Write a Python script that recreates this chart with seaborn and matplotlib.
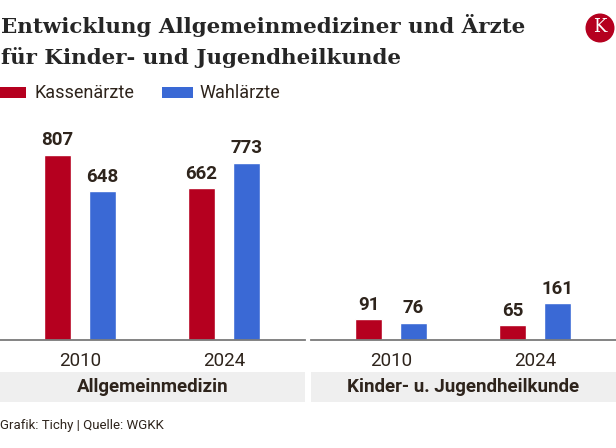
import matplotlib
matplotlib.use("Agg")
import matplotlib.pyplot as plt
import seaborn as sns
import pandas as pd
from matplotlib.patches import Rectangle, Ellipse

# ---- data ----
panels = ["Allgemeinmedizin", "Kinder- u. Jugendheilkunde"]
years = ["2010", "2024"]
series = ["Kassenärzte", "Wahlärzte"]
allgemein_kassen = [807, 662]
allgemein_wahl = [648, 773]
kinder_kassen = [91, 65]
kinder_wahl = [76, 161]

title_lines = ["Entwicklung Allgemeinmediziner und Ärzte",
               "für Kinder- und Jugendheilkunde"]
footer = "Grafik: Tichy | Quelle: WGKK"

RED = "#b5001f"
BLUE = "#3a69d5"
TXT = "#2e241c"

sns.set_theme(style="white")
plt.rcParams["font.family"] = ["Roboto", "DejaVu Sans"]

W, H = 616, 448
fig = plt.figure(figsize=(W / 100, H / 100), dpi=100)

def fx(px):
    return px / W

def fy(py):
    return 1 - py / H

base_y = 340
top_y = 110
panel_x = [(0, 305), (311, 616)]
data_sets = [(allgemein_kassen, allgemein_wahl), (kinder_kassen, kinder_wahl)]
ymax = (base_y - top_y) / ((340 - 155) / 807)

for (x0, x1), (kas, wahl), pname in zip(panel_x, data_sets, panels):
    ax = fig.add_axes([fx(x0), fy(base_y), fx(x1 - x0), (base_y - top_y) / H])
    df = pd.DataFrame({
        "Jahr": years * 2,
        "Gruppe": [series[0]] * len(years) + [series[1]] * len(years),
        "Wert": list(kas) + list(wahl),
    })
    sns.barplot(data=df, x="Jahr", y="Wert", hue="Gruppe", order=years,
                hue_order=series, palette=[RED, BLUE], width=0.625, gap=0.4,
                ax=ax, legend=False, saturation=1)
    for c in ax.containers:
        ax.bar_label(c, fmt="%d", padding=4, fontsize=13.5, fontweight="bold",
                     color=TXT)
    ax.set_xlim(-0.556, 1.5625)
    ax.set_ylim(0, ymax)
    ax.set_xlabel("")
    ax.set_ylabel("")
    ax.set_yticks([])
    for s in ["top", "right", "left"]:
        ax.spines[s].set_visible(False)
    ax.spines["bottom"].set_color("#7a7a7a")
    ax.spines["bottom"].set_linewidth(1.3)
    ax.tick_params(axis="x", length=0, pad=9, labelsize=13.5, labelcolor=TXT)
    ax.patch.set_alpha(0)
    # panel label box
    fig.patches.append(Rectangle((fx(x0), fy(402)), fx(x1 - x0), 30 / H,
                                 transform=fig.transFigure, facecolor="#efefef",
                                 edgecolor="none", zorder=0))
    fig.text(fx((x0 + x1) / 2), fy(387.5), pname, ha="center", va="center",
             fontsize=13.5, fontweight="bold", color=TXT)

# title
for line, yb in zip(title_lines, [33, 63.5]):
    fig.text(fx(1), fy(yb), line, ha="left", va="baseline", fontsize=15.4,
             fontweight="bold", family=["DejaVu Serif"], color="#262626")

# legend
lx = [(0, 26, 35), (162, 193, 199)]
for (a, b, t), name, col in zip(lx, series, [RED, BLUE]):
    fig.patches.append(Rectangle((fx(a), fy(98)), fx(b - a), 11 / H,
                                 transform=fig.transFigure, facecolor=col,
                                 edgecolor="none"))
    fig.text(fx(t), fy(92.5), name, ha="left", va="center", fontsize=13,
             color=TXT)

# logo
fig.patches.append(Ellipse((fx(600), fy(28)), 29 / W, 29 / H,
                           transform=fig.transFigure,
                           facecolor="#b5001f", edgecolor="none"))
fig.text(fx(600), fy(27.5), "K", ha="center", va="center", fontsize=13,
         family=["DejaVu Serif"], color="white")

# footer
fig.text(fx(0), fy(425), footer, ha="left", va="center", fontsize=9.5,
         color=TXT)

fig.savefig("out.png", dpi=100)
